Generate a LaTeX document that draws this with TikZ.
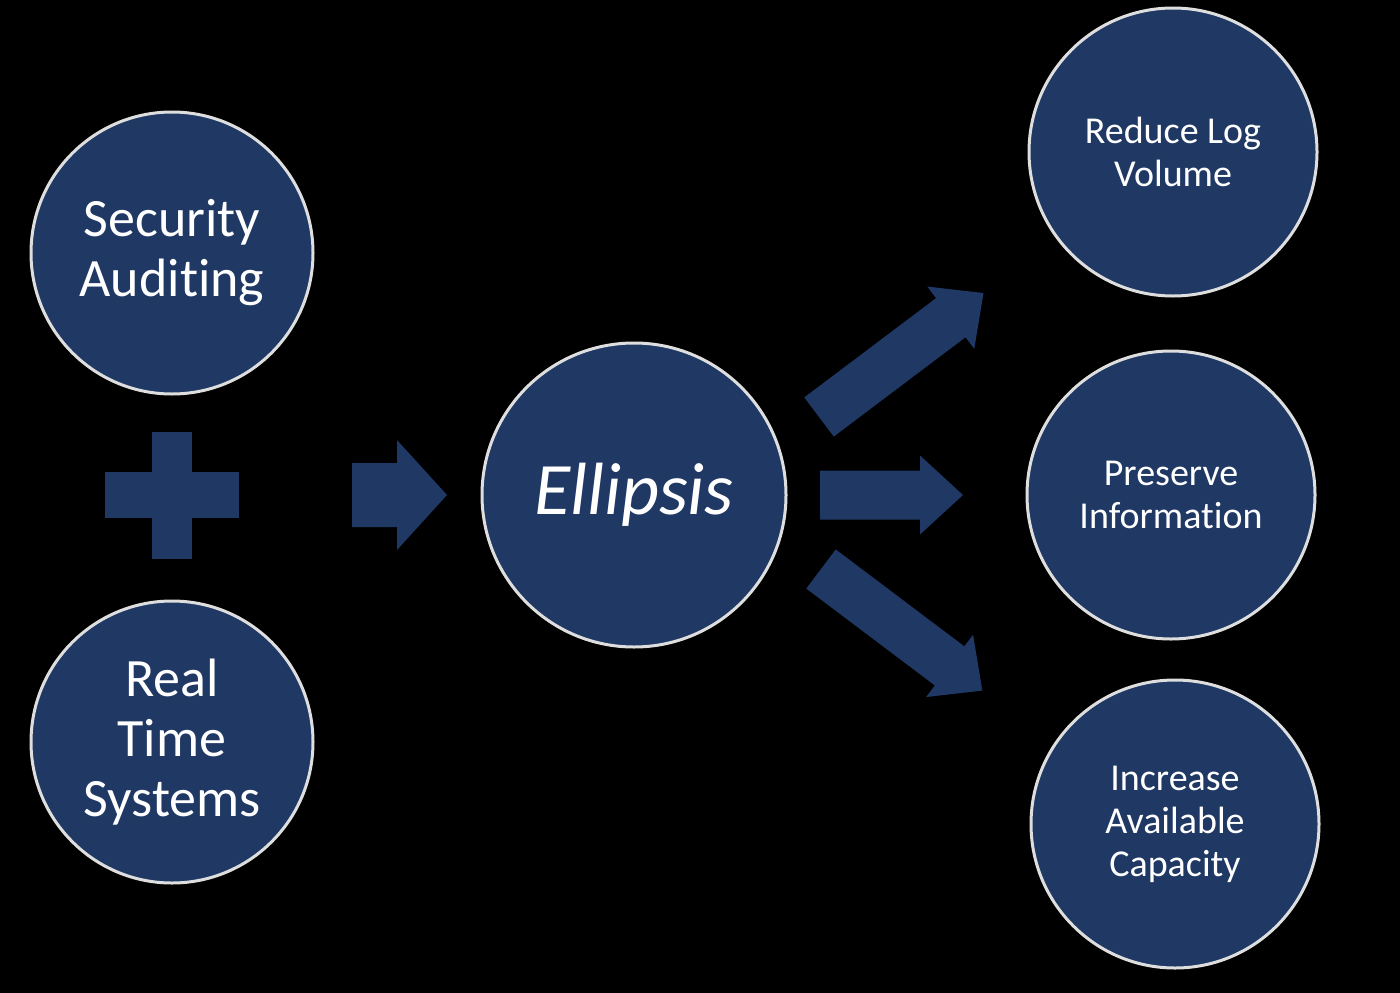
\documentclass[tikz,border=0pt]{standalone}
\usepackage{fontspec}
\setmainfont{Carlito}
\definecolor{navy}{RGB}{31,56,100}
\newcommand{\nolig}{\kern0pt}
\begin{document}
\begin{tikzpicture}[x=1pt,y=-1pt, line join=round,
	bubble/.style={circle, fill=navy, draw=black!13, line width=3pt, text=white, align=center, inner sep=0pt},
	bigtext/.style={font=\fontsize{54}{60}\selectfont},
	smalltext/.style={font=\fontsize{38}{43}\selectfont}]
	\fill[black] (0,0) rectangle (1400,993);
	\useasboundingbox (0,0) rectangle (1400,993);
	\node[bubble, bigtext, minimum size=282] (sec) at (172,253) {Security\\Audit\nolig ing};
	\node[bubble, bigtext, minimum size=282] (rts) at (172,742) {Real\\Time\\Systems};
	\node[bubble, minimum size=304, font=\fontsize{74}{80}\selectfont\itshape] (ell) at (634,495) {Ellipsis};
	\node[bubble, smalltext, minimum size=288] (rlv) at (1173,152) {Reduce Log\\Volume};
	\node[bubble, smalltext, minimum size=288] (pin) at (1171,495) {Preserve\\Informat\nolig ion};
	\node[bubble, smalltext, minimum size=288] (iac) at (1175,824) {Increase\\Available\\Capacity};
	\fill[navy] (105,472) rectangle (239,518);
	\fill[navy] (152,432) rectangle (192,559);
	\foreach \tx/\ty/\ang/\len/\sh/\hh/\hl in {352/495/0/95/32/55/50, 820/495/0/143/24.5/39.5/43, 819/417/37/206/24.5/39/41, 821/569/-37/202/24.5/39/41}
		\fill[navy, shift={(\tx,\ty)}, rotate=\ang] (0,-\sh) -- (\len-\hl,-\sh) -- (\len-\hl,-\hh) -- (\len,0) -- (\len-\hl,\hh) -- (\len-\hl,\sh) -- (0,\sh) -- cycle;
\end{tikzpicture}
\end{document}
